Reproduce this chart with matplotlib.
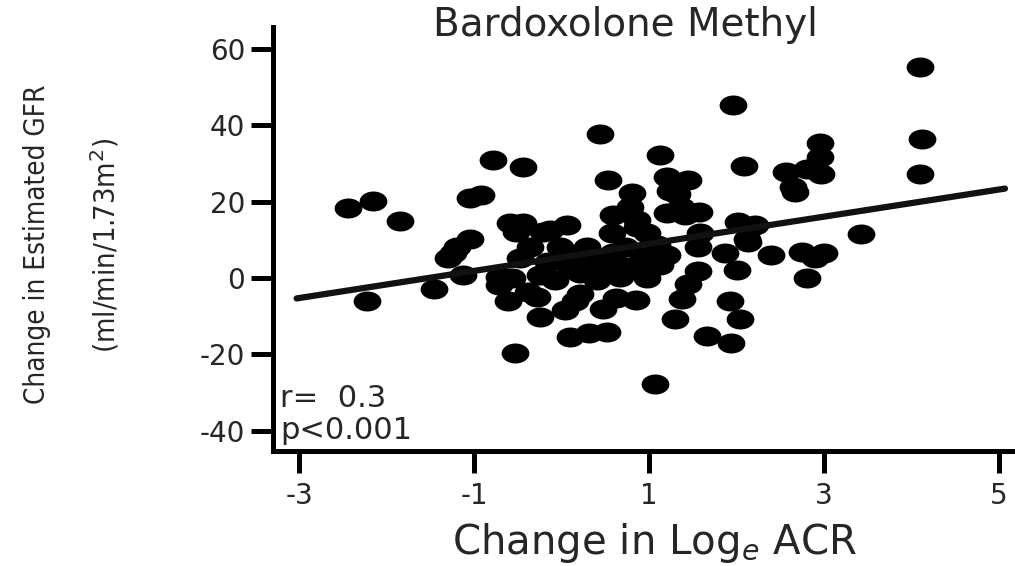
import numpy as np
import matplotlib
matplotlib.use("Agg")
import matplotlib.pyplot as plt
from matplotlib.path import Path
from matplotlib.transforms import Affine2D

plt.rcParams['font.family'] = ['DejaVu Sans']
plt.rcParams['mathtext.fontset'] = 'dejavusans'

# change in log_e ACR vs change in eGFR, one dot per patient
acr_change = [
    4.10, 1.96, 0.44, 4.12, 2.95, 2.96, 1.12, -0.78, -0.44, 2.08,
    2.57, 2.81, 2.97, 4.10, 2.67, 2.65, 3.42, 0.53, 1.20, 1.44,
    1.24, 0.81, 1.32, 0.59, 0.78, 0.86, 1.21, 1.41, 1.57, 1.36,
    2.02, 2.21, 1.58, 2.12, -0.13, 0.06, 0.58, 0.86, 0.98, -2.44,
    -2.16, -1.85, -1.05, -0.92, -0.59, -0.44, -0.52, -1.05, -2.23, -1.46,
    -1.24, -1.20, -1.30, -1.13, -0.72, -0.57, -0.72, -0.61, -0.38, -0.28,
    -0.53, -0.47, -0.21, -0.02, 0.29, 0.59, 0.93, 1.21, 1.56, 1.87,
    0.10, 0.21, 0.47, 0.75, 0.98, 0.67, 0.41, 1.56, 2.00, 1.45,
    0.21, 0.15, 0.62, 0.85, 0.47, 1.38, 1.93, -0.25, 0.04, 1.30,
    0.10, 0.31, 0.52, 1.66, 1.94, 1.07, 2.13, 2.39, 2.75, 2.90,
    3.00, 2.81, 2.04, -0.36, -0.15, -0.02, 0.33, 0.53, 0.73, -0.07,
    0.25, 0.85, 1.09, -0.25, 1.13,
]
egfr_change = [
    55.2, 45.3, 37.7, 36.4, 35.3, 31.6, 32.2, 30.9, 29.0, 29.3,
    27.7, 28.5, 27.2, 27.2, 22.5, 23.8, 11.5, 25.6, 26.4, 25.6,
    22.7, 22.2, 22.0, 16.5, 18.6, 15.2, 17.0, 16.5, 17.3, 18.6,
    14.6, 13.8, 11.8, 10.2, 12.5, 13.8, 11.8, 13.3, 11.8, 18.3,
    20.1, 14.9, 20.9, 21.7, 14.4, 14.4, 12.0, 10.2, -6.0, -2.9,
    6.5, 8.1, 5.2, 0.8, 0.2, 0.0, -1.9, -6.0, -3.7, -5.0,
    -19.7, 5.2, 12.0, 8.1, 8.1, 6.5, 5.5, 6.0, 8.1, 6.5,
    2.9, 1.3, 1.5, 2.9, 0.0, 0.2, -0.5, 1.8, 2.1, -1.6,
    -4.2, -6.0, -5.3, -5.8, -8.1, -5.5, -6.0, -10.2, -8.4, -10.8,
    -15.5, -14.4, -14.2, -15.2, -17.0, -27.8, 9.4, 6.0, 6.8, 5.2,
    6.5, 0.0, -10.8, 8.1, 4.2, 5.2, 4.2, 4.7, 8.1, -0.5,
    6.0, 2.6, 8.6, 0.8, 3.4,
]

# linear fit shown on the plot
fit_slope = 3.55
fit_intercept = 5.4
fit_range = [-3.03, 5.07]

x_ticks = [-3, -1, 1, 3, 5]
y_ticks = [-40, -20, 0, 20, 40, 60]

text_col = '#262626'

# slightly flattened dot
dot = Path.unit_circle().transformed(Affine2D().scale(1.0, 0.72))

fig = plt.figure(figsize=(10.15, 5.66), dpi=100)
ax = fig.add_axes([273 / 1015, 1 - 451 / 566, (1012 - 273) / 1015, (451 - 27) / 566])

ax.scatter(acr_change, egfr_change, marker=dot, s=20 ** 2, color='black',
           linewidths=0, zorder=2)

fx = np.array(fit_range)
ax.plot(fx, fit_intercept + fit_slope * fx, color='#111111', lw=4.5,
        solid_capstyle='round', zorder=3)

ax.set_xlim(-3.30, 5.15)
ax.set_ylim(-45.3, 65.7)
ax.set_xticks(x_ticks)
ax.set_yticks(y_ticks)
ax.set_xticklabels([str(t) for t in x_ticks])
ax.set_yticklabels([str(t) for t in y_ticks])

for side in ['top', 'right']:
    ax.spines[side].set_visible(False)
for side in ['left', 'bottom']:
    ax.spines[side].set_linewidth(3.6)
    ax.spines[side].set_color('black')
ax.tick_params(axis='both', direction='out', length=16, width=3.6,
               labelsize=20, labelcolor=text_col)
ax.tick_params(axis='x', pad=6)
ax.tick_params(axis='y', pad=4)

ax.text(-3.22, -31.5, 'r=  0.3', fontsize=22, color=text_col, va='center')
ax.text(-3.22, -40.0, 'p<0.001', fontsize=22, color=text_col, va='center')

fig.text(625 / 1015, 1 - 25 / 566, 'Bardoxolone Methyl', fontsize=28,
         color=text_col, ha='center', va='center')
fig.text(655 / 1015, 1 - 543 / 566, 'Change in Log$_e$ ACR', fontsize=29,
         color=text_col, ha='center', va='center')
fig.text(37 / 1015, 1 - 244 / 566, 'Change in Estimated GFR', fontsize=20,
         fontstretch='condensed', color=text_col, rotation=90,
         ha='center', va='center')
fig.text(105 / 1015, 1 - 245 / 566, '(ml/min/1.73m$^2$)', fontsize=21,
         fontstretch='condensed', color=text_col, rotation=90,
         ha='center', va='center')

fig.savefig('out.png', dpi=100)
